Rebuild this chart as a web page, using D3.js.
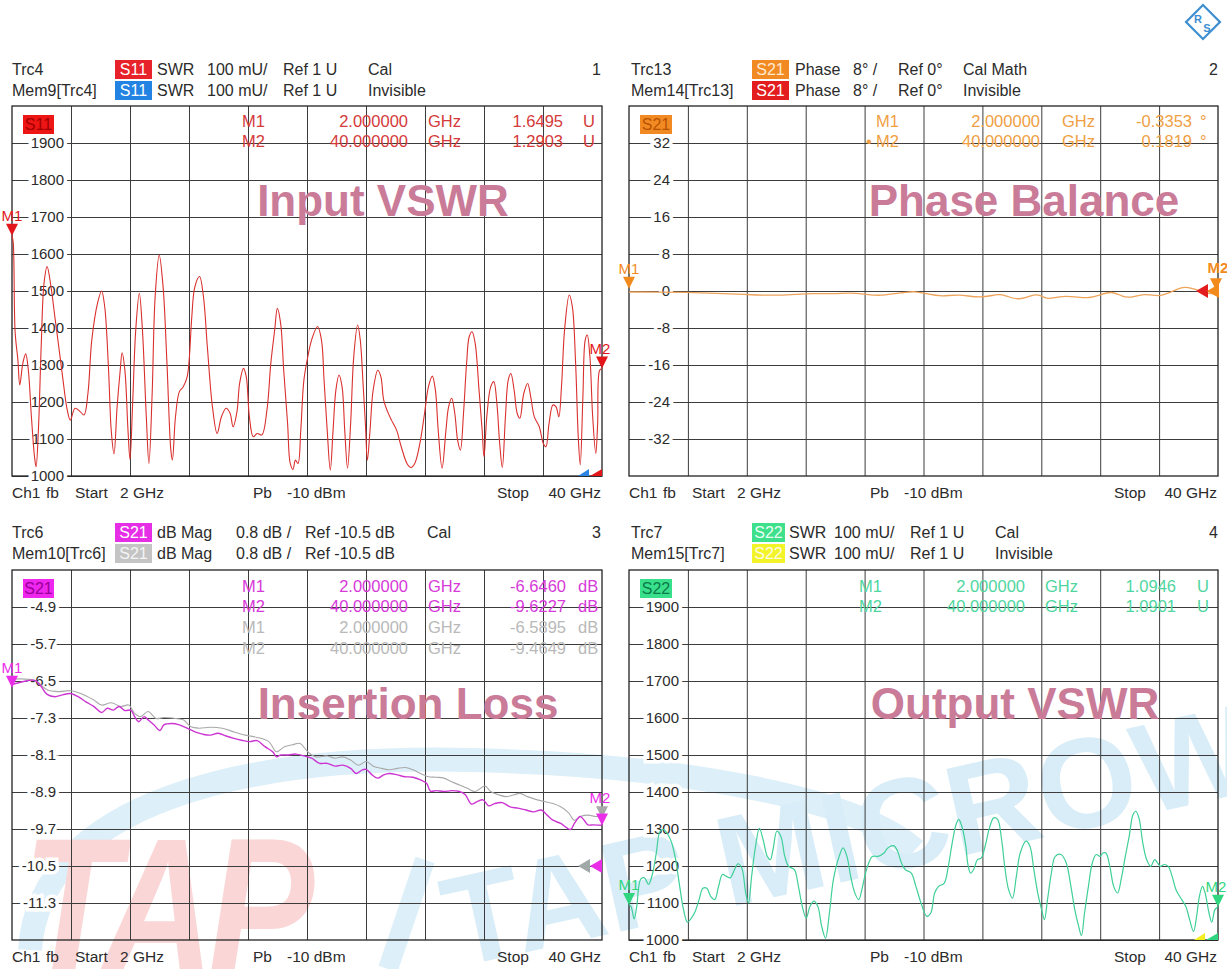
<!DOCTYPE html>
<html>
<head>
<meta charset="utf-8">
<script src="https://cdn.jsdelivr.net/npm/d3@7"></script>
<style>
  body { margin: 0; background: #fff; }
  svg text { font-family: "Liberation Sans", Arial, sans-serif; white-space: pre; }
</style>
</head>
<body>
<svg id="chart" width="1227" height="969"></svg>
<script>
// ---- data ----
const swrTicks = [1900, 1800, 1700, 1600, 1500, 1400, 1300, 1200, 1100, 1000];
const phaseTicks = [32, 24, 16, 8, 0, -8, -16, -24, -32];
const dbTicks = [-4.9, -5.7, -6.5, -7.3, -8.1, -8.9, -9.7, -10.5, -11.3];

// Trc4 S11 SWR (mU)
const s11Freq = [2.00,2.08,2.20,2.38,2.50,2.70,2.88,3.05,3.25,3.45,3.55,3.70,3.88,4.06,4.26,4.51,4.76,5.01,5.26,5.56,
  5.76,6.06,6.39,6.64,6.89,7.14,7.51,7.77,7.97,8.22,8.39,8.57,8.77,8.97,9.09,9.27,9.47,9.60,9.77,9.97,
  10.20,10.40,10.65,10.82,11.02,11.22,11.48,11.73,11.98,12.23,12.33,12.53,12.78,13.03,13.28,13.41,13.58,13.78,14.08,14.33,
  14.58,14.91,15.21,15.49,15.79,16.04,16.24,16.49,16.66,16.91,17.09,17.29,17.54,17.79,18.09,18.42,18.67,18.92,19.09,19.30,
  19.50,19.75,19.92,20.10,20.25,20.42,20.60,20.80,21.05,21.30,21.68,21.93,22.10,22.30,22.50,22.68,22.86,23.06,23.26,23.43,
  23.61,23.81,24.01,24.26,24.43,24.61,24.76,24.89,25.06,25.26,25.56,25.76,25.94,26.19,26.44,26.77,27.07,27.44,27.69,27.94,
  28.27,28.57,28.82,29.07,29.27,29.45,29.70,29.95,30.12,30.32,30.52,30.70,30.88,31.08,31.28,31.45,31.63,31.83,32.08,32.28,
  32.40,32.58,32.83,33.03,33.23,33.41,33.58,33.78,33.96,34.13,34.34,34.54,34.71,34.96,35.21,35.41,35.64,35.96,36.22,36.39,
  36.59,36.84,37.04,37.22,37.39,37.59,37.89,38.09,38.30,38.47,38.60,38.77,38.92,39.05,39.22,39.40,39.60,39.72,39.85,40.00];
const s11Swr = [1650,1630,1390,1313,1246,1305,1330,1287,1160,1052,1025,1124,1350,1520,1566,1512,1430,1350,1268,1178,
  1151,1183,1174,1165,1223,1368,1467,1500,1458,1286,1124,1060,1187,1286,1333,1286,1124,1045,1196,1395,
  1494,1395,1160,1034,1214,1485,1597,1512,1305,1070,1043,1160,1228,1241,1268,1313,1430,1512,1539,1485,
  1350,1187,1115,1160,1183,1170,1133,1174,1250,1291,1268,1160,1106,1115,1111,1178,1305,1395,1453,1413,
  1286,1142,1034,1018,1043,1034,1124,1259,1322,1368,1404,1368,1259,1124,1016,1124,1232,1273,1241,1124,
  1021,1142,1322,1408,1368,1250,1142,1043,1124,1232,1286,1268,1205,1174,1151,1124,1079,1034,1023,1034,
  1088,1169,1241,1270,1232,1124,1021,1124,1187,1210,1169,1097,1070,1169,1305,1377,1390,1359,1232,1124,
  1052,1160,1241,1255,1196,1088,1023,1160,1259,1277,1232,1169,1156,1223,1250,1214,1160,1133,1088,1079,
  1142,1192,1187,1160,1241,1395,1489,1458,1305,1106,1030,1214,1368,1381,1323,1160,1061,1142,1286,1290];

// Trc13 S21 phase (deg)
const phaseFreq = [2.00,3.63,5.64,7.65,9.41,11.17,12.93,13.68,15.19,16.19,17.20,18.20,19.20,19.71,20.46,21.21,22.22,23.22,24.73,25.73,
  26.24,27.12,27.99,28.50,29.00,29.75,30.76,31.76,32.39,33.14,33.77,34.27,35.28,36.16,36.79,37.79,38.29,38.80,39.30,40.00];
const phaseDeg = [-0.22,-0.22,-0.29,-0.50,-0.72,-1.01,-0.72,-0.50,-0.65,-0.36,-0.65,-1.08,-0.50,-0.36,0.00,-0.65,-1.23,-0.65,-1.59,-0.65,
  -0.86,-2.09,-0.86,-0.72,-1.95,-1.08,-1.23,-1.59,-0.86,0.00,-1.08,-1.59,-0.50,-1.23,-0.50,1.08,0.58,0.07,-0.50,-0.65];

// Trc6 S21 dB mag and its memory trace
const s21Freq = [2.00,2.75,3.50,3.88,4.26,4.76,5.26,5.76,6.26,6.76,7.26,7.77,8.14,8.52,8.89,9.27,9.65,9.90,10.15,10.52,
  10.77,11.15,11.53,11.78,12.28,12.78,13.28,13.78,14.28,14.78,15.28,15.79,16.29,16.79,17.29,17.79,18.29,18.79,19.04,19.30,
  19.80,20.30,20.80,21.30,21.80,22.30,22.80,23.31,23.81,24.18,24.56,24.81,25.19,25.56,25.94,26.31,26.82,27.32,27.82,28.32,
  28.70,28.95,29.32,29.82,30.32,30.83,31.20,31.58,31.95,32.33,32.71,33.08,33.58,34.08,34.59,35.09,35.59,36.09,36.47,36.84,
  37.34,37.97,38.22,38.60,38.85,39.10,39.47,40.00];
const s21Db = [-6.58,-6.51,-6.49,-6.62,-6.79,-6.84,-6.80,-6.77,-6.84,-6.95,-7.05,-7.18,-7.09,-7.13,-7.05,-7.14,-7.13,-7.27,-7.38,-7.27,
  -7.34,-7.45,-7.57,-7.45,-7.42,-7.45,-7.52,-7.60,-7.65,-7.67,-7.63,-7.69,-7.74,-7.78,-7.81,-7.79,-7.92,-8.03,-8.14,-8.10,
  -8.10,-8.08,-8.12,-8.17,-8.28,-8.28,-8.34,-8.32,-8.39,-8.50,-8.42,-8.41,-8.53,-8.60,-8.53,-8.50,-8.53,-8.57,-8.58,-8.64,
  -8.71,-8.88,-8.87,-8.89,-8.87,-8.89,-8.96,-9.16,-9.11,-9.07,-9.20,-9.15,-9.13,-9.22,-9.25,-9.29,-9.33,-9.29,-9.40,-9.51,
  -9.58,-9.71,-9.58,-9.43,-9.51,-9.61,-9.61,-9.62];
const memFreq = [2.00,3.50,4.26,5.01,5.76,6.51,7.26,7.77,8.39,9.02,9.52,9.90,10.27,10.77,11.27,11.78,12.53,13.03,13.53,14.03,
  14.78,15.54,16.29,17.04,17.79,18.54,19.04,19.55,20.05,20.55,21.05,21.55,22.30,22.80,23.31,23.81,24.31,24.81,25.31,25.81,
  26.31,26.82,27.32,27.82,28.32,28.82,29.32,29.82,30.32,30.83,31.33,31.83,32.46,32.83,33.33,33.83,34.34,34.71,35.21,35.84,
  36.34,36.84,37.34,37.85,38.22,38.60,39.10,39.60,40.00];
const memDb = [-6.46,-6.49,-6.69,-6.73,-6.71,-6.78,-6.91,-7.02,-6.97,-7.05,-7.02,-7.20,-7.27,-7.16,-7.31,-7.29,-7.31,-7.34,-7.49,-7.52,
  -7.50,-7.52,-7.60,-7.67,-7.72,-7.81,-8.03,-7.92,-7.88,-7.85,-8.03,-8.14,-8.12,-8.17,-8.14,-8.21,-8.32,-8.24,-8.35,-8.39,
  -8.42,-8.39,-8.37,-8.42,-8.50,-8.57,-8.58,-8.60,-8.68,-8.75,-8.82,-8.89,-8.77,-8.89,-8.96,-9.00,-8.96,-8.93,-9.00,-9.07,
  -9.11,-9.15,-9.22,-9.35,-9.51,-9.43,-9.40,-9.43,-9.43];

// Trc7 S22 SWR (mU)
const s22Freq = [2.00,2.13,2.33,2.50,2.75,3.00,3.26,3.51,3.76,4.01,4.26,4.51,4.76,5.01,5.27,5.52,5.77,6.02,6.27,6.52,
  6.77,7.02,7.27,7.53,7.78,8.03,8.28,8.53,8.78,9.03,9.28,9.53,9.71,9.91,10.16,10.41,10.66,10.92,11.12,11.29,
  11.54,11.80,12.05,12.30,12.67,12.93,13.18,13.43,13.68,13.93,14.18,14.43,14.68,14.93,15.19,15.56,15.81,16.06,16.32,16.57,
  16.82,17.07,17.32,17.70,18.07,18.45,18.70,19.08,19.33,19.58,19.83,20.21,20.51,20.84,21.21,21.47,21.72,21.97,22.34,22.60,
  22.85,23.10,23.27,23.47,23.73,23.85,24.03,24.23,24.48,24.73,24.98,25.23,25.53,25.78,26.04,26.24,26.49,26.74,26.99,27.24,
  27.62,27.87,28.12,28.37,28.62,28.80,29.00,29.25,29.50,29.88,30.21,30.51,30.76,31.01,31.19,31.39,31.64,31.89,32.14,32.39,
  32.57,32.77,33.02,33.27,33.52,33.77,34.02,34.27,34.52,34.70,34.90,35.15,35.40,35.66,35.91,36.11,36.28,36.53,36.79,37.04,
  37.29,37.66,37.92,38.17,38.42,38.62,38.80,39.00,39.17,39.42,39.60,39.80,40.00];
const s22Swr = [1095,1091,1057,1091,1164,1168,1150,1178,1235,1294,1298,1285,1262,1217,1145,1082,1048,1059,1077,1109,
  1140,1140,1118,1109,1145,1177,1172,1168,1188,1206,1194,1127,1100,1172,1252,1302,1270,1226,1217,1244,
  1294,1280,1226,1199,1190,1145,1091,1059,1091,1105,1091,1037,1005,1073,1164,1226,1249,1226,1168,1127,
  1109,1145,1190,1226,1226,1235,1249,1255,1240,1208,1190,1181,1145,1100,1064,1073,1127,1145,1154,1199,
  1262,1312,1326,1308,1254,1208,1181,1190,1217,1222,1254,1299,1330,1326,1271,1199,1136,1113,1172,1235,
  1267,1253,1190,1127,1082,1055,1109,1181,1226,1231,1208,1145,1082,1037,1012,1073,1145,1208,1231,1226,
  1235,1235,1199,1145,1127,1168,1226,1280,1339,1348,1330,1262,1217,1199,1217,1208,1199,1204,1199,1172,
  1136,1109,1091,1055,1023,1064,1118,1145,1127,1073,1048,1082,1090];

const svg = d3.select("#chart");
const gridColor = "#3c3c3c";
const textColor = "#2b2b2b";
const HEAD = 16;    // header font size
const MARK = 16.5;  // marker table font size
const FOOT = 15.5;  // footer font size

// ---- watermark (drawn first, very faint) ----
const wm = svg.append("g").attr("class", "watermark");
wm.append("path")
  .attr("d", "M30,950 C40,800 250,755 470,760 C690,765 860,800 915,850")
  .attr("fill", "none").attr("stroke", "#ddeff8").attr("stroke-width", 24);
wm.append("text")
  .attr("transform", "translate(22,978) scale(0.8,1)")
  .attr("font-size", 200).attr("font-weight", "bold").attr("font-style", "italic")
  .attr("letter-spacing", -10)
  .attr("fill", "#fbd6d6").text("TAP");
wm.append("path")
  .attr("d", "M425,860 L388,969")
  .attr("stroke", "#ddeff8").attr("stroke-width", 20);
wm.append("text")
  .attr("transform", "translate(455,968) rotate(-12.5)")
  .attr("font-size", 128).attr("font-weight", "bold")
  .attr("fill", "#d8edf7").text("TAP MICROWA");

// R&S style logo
const logo = svg.append("g").attr("transform", "translate(1203,22)");
logo.append("rect").attr("x", -12).attr("y", -12).attr("width", 24).attr("height", 24)
  .attr("transform", "rotate(45)").attr("fill", "#fff").attr("stroke", "#3d8fd1").attr("stroke-width", 2.2);
logo.append("text").attr("x", -5).attr("y", 1).attr("font-size", 11).attr("font-weight", "bold")
  .attr("fill", "#3d8fd1").attr("text-anchor", "middle").text("R");
logo.append("text").attr("x", 4).attr("y", 10).attr("font-size", 11).attr("font-weight", "bold")
  .attr("fill", "#3d8fd1").attr("text-anchor", "middle").text("S");

// ---- helpers ----
function txt(g, x, y, s, opt) {
  opt = opt || {};
  return g.append("text")
    .attr("x", x).attr("y", y)
    .attr("font-size", opt.size || HEAD)
    .attr("fill", opt.color || textColor)
    .attr("text-anchor", opt.anchor || "start")
    .attr("font-weight", opt.weight || "normal")
    .text(s);
}

// several words of one line, each at its own x
function words(g, y, list, size) {
  list.forEach(w => txt(g, w[0], y, w[1], { size: size || HEAD }));
}

function tag(g, x, y, s, bg, fg, w, size) {
  w = w || 37;
  g.append("rect").attr("x", x).attr("y", y - 15).attr("width", w).attr("height", 19).attr("fill", bg);
  txt(g, x + w / 2, y, s, { color: fg, anchor: "middle", size: size || HEAD });
}

function downTri(g, x, y, color) {
  g.append("path").attr("d", `M${x - 6},${y - 12}L${x + 6},${y - 12}L${x},${y}Z`).attr("fill", color);
}

function leftTri(g, x, y, color) {
  g.append("path").attr("d", `M${x},${y}L${x + 12},${y - 7}L${x + 12},${y + 7}Z`).attr("fill", color);
}

function drawPanel(p) {
  const g = svg.append("g");
  const x = d3.scaleLinear().domain([2, 40]).range([p.x0, p.x0 + p.w]);
  const y = d3.scaleLinear().domain(p.yDomain).range([p.y0 + p.h, p.y0]);

  // vertical grid (10 divisions over the span)
  const xGrid = d3.range(1, 10).map(i => 2 + i * 3.8);
  g.append("g")
    .attr("transform", `translate(0,${p.y0 + p.h})`)
    .call(d3.axisBottom(x).tickValues(xGrid).tickSize(-p.h).tickFormat(""))
    .call(a => a.select(".domain").remove())
    .call(a => a.selectAll("line").attr("stroke", gridColor).attr("stroke-width", 1));

  // horizontal grid
  g.append("g")
    .attr("transform", `translate(${p.x0},0)`)
    .call(d3.axisLeft(y).tickValues(p.yTicks).tickSize(-p.w).tickFormat(""))
    .call(a => a.select(".domain").remove())
    .call(a => a.selectAll("line").attr("stroke", gridColor).attr("stroke-width", 1));

  // frame
  g.append("rect")
    .attr("x", p.x0).attr("y", p.y0).attr("width", p.w).attr("height", p.h)
    .attr("fill", "none").attr("stroke", "#222").attr("stroke-width", 1.3);

  // tick labels sit on the grid lines with a white knock-out
  g.selectAll("text.ylab")
    .data(p.yTicks)
    .enter().append("text")
    .attr("class", "ylab")
    .attr("x", p.x0 + p.labelEnd)
    .attr("y", d => y(d) + 5)
    .attr("text-anchor", "end")
    .attr("font-size", 15)
    .attr("fill", textColor)
    .attr("stroke", "#fff").attr("stroke-width", 7).attr("paint-order", "stroke")
    .text(d => String(d));

  // footer
  const fy = p.y0 + p.h + 22;
  words(g, fy, [[p.x0, "Ch1"], [p.x0 + 34, "fb"], [p.x0 + 63, "Start"], [p.x0 + 108, "2 GHz"],
    [p.x0 + 241, "Pb"], [p.x0 + 275, "-10 dBm"], [p.x0 + 485, "Stop"]], FOOT);
  txt(g, p.x0 + p.w - 1, fy, "40 GHz", { anchor: "end", size: FOOT });

  return { g, x, y };
}

function trace(pan, freq, vals, color, width, curve) {
  pan.g.append("path")
    .datum(d3.zip(freq, vals))
    .attr("fill", "none")
    .attr("stroke", color)
    .attr("stroke-width", width)
    .attr("stroke-linejoin", "round")
    .attr("d", d3.line().x(d => pan.x(d[0])).y(d => pan.y(d[1])).curve(curve || d3.curveLinear));
}

function markerTable(g, rows, cols) {
  rows.forEach(r => {
    const o = { color: r.color, size: MARK };
    txt(g, cols.name, r.y, r.name, o);
    txt(g, cols.freqEnd, r.y, r.freq, Object.assign({ anchor: "end" }, o));
    txt(g, cols.ghz, r.y, "GHz", o);
    txt(g, cols.valEnd, r.y, r.val, Object.assign({ anchor: "end" }, o));
    txt(g, cols.unit, r.y, r.unit, o);
  });
}

const curve = d3.curveCatmullRom.alpha(0.5);
const titleColor = "#c97b98";

// ---- panel 1: Input VSWR ----
const p1 = drawPanel({ x0: 12, y0: 106, w: 590, h: 370, yDomain: [1000, 2000], yTicks: swrTicks, labelEnd: 52 });
txt(p1.g, 12, 75, "Trc4");
tag(p1.g, 115, 75, "S11", "#e8222a", "#fff");
words(p1.g, 75, [[157, "SWR"], [207, "100 mU/"], [283, "Ref 1 U"], [368, "Cal"]]);
txt(p1.g, 601, 75, "1", { anchor: "end" });
txt(p1.g, 12, 96, "Mem9[Trc4]");
tag(p1.g, 115, 96, "S11", "#2283e2", "#fff");
words(p1.g, 96, [[157, "SWR"], [207, "100 mU/"], [283, "Ref 1 U"], [368, "Invisible"]]);
txt(p1.g, 383, 216, "Input VSWR", { size: 44, weight: "bold", color: titleColor, anchor: "middle" });
tag(p1.g, 23, 130, "S11", "#ee1515", "#a40000", 31, 16);
markerTable(p1.g, [
  { y: 127, name: "M1", freq: "2.000000", val: "1.6495", unit: "U", color: "#d43a3a" },
  { y: 147, name: "M2", freq: "40.000000", val: "1.2903", unit: "U", color: "#d43a3a" }
], { name: 242, freqEnd: 408, ghz: 428, valEnd: 563, unit: 583 });
trace(p1, s11Freq, s11Swr, "#d9302e", 1.1, curve);
downTri(p1.g, p1.x(2), p1.y(1649.5), "#e3161c");
txt(p1.g, p1.x(2), p1.y(1649.5) - 15, "M1", { color: "#e3161c", anchor: "middle", size: 15 });
downTri(p1.g, p1.x(40), p1.y(1290.3), "#e3161c");
txt(p1.g, p1.x(40) - 2, p1.y(1290.3) - 15, "M2", { color: "#e3161c", anchor: "middle", size: 15 });
p1.g.append("path").attr("d", `M${p1.x(40) - 24},${p1.y(1000)}L${p1.x(40) - 13},${p1.y(1000) - 7}L${p1.x(40) - 13},${p1.y(1000)}Z`).attr("fill", "#2a86e0");
p1.g.append("path").attr("d", `M${p1.x(40) - 12},${p1.y(1000)}L${p1.x(40)},${p1.y(1000) - 7}L${p1.x(40)},${p1.y(1000)}Z`).attr("fill", "#e3161c");

// ---- panel 2: Phase Balance ----
const p2 = drawPanel({ x0: 629, y0: 106, w: 589, h: 370, yDomain: [-40, 40], yTicks: phaseTicks, labelEnd: 41 });
txt(p2.g, 631, 75, "Trc13");
tag(p2.g, 752, 75, "S21", "#f28a24", "#ffe9cf");
words(p2.g, 75, [[795, "Phase"], [853, "8° /"], [898, "Ref 0°"], [963, "Cal Math"]]);
txt(p2.g, 1218, 75, "2", { anchor: "end" });
txt(p2.g, 631, 96, "Mem14[Trc13]");
tag(p2.g, 752, 96, "S21", "#e31d1d", "#fff");
words(p2.g, 96, [[795, "Phase"], [853, "8° /"], [898, "Ref 0°"], [963, "Invisible"]]);
txt(p2.g, 1024, 216, "Phase Balance", { size: 44, weight: "bold", color: titleColor, anchor: "middle" });
tag(p2.g, 640, 130, "S21", "#f28a24", "#b85300", 32, 16);
markerTable(p2.g, [
  { y: 127, name: "M1", freq: "2.000000", val: "-0.3353", unit: "°", color: "#f0a043" },
  { y: 147, name: "M2", freq: "40.000000", val: "0.1819", unit: "°", color: "#f0a043" }
], { name: 876, freqEnd: 1040, ghz: 1062, valEnd: 1192, unit: 1200 });
txt(p2.g, 866, 147, "•", { color: "#f0a043", size: MARK });
trace(p2, phaseFreq, phaseDeg, "#eda35a", 1.3, d3.curveBasis);
downTri(p2.g, p2.x(2), p2.y(0.5), "#f38a1e");
txt(p2.g, p2.x(2), p2.y(0.5) - 15, "M1", { color: "#f38a1e", anchor: "middle", size: 15 });
leftTri(p2.g, p2.x(40) - 22, p2.y(0), "#e31d1d");
leftTri(p2.g, p2.x(40) - 11, p2.y(0), "#f38a1e");
downTri(p2.g, p2.x(40) - 2, p2.y(0.18), "#f38a1e");
txt(p2.g, p2.x(40), p2.y(0.18) - 17, "M2", { color: "#f38a1e", anchor: "middle", weight: "bold", size: 15 });

// ---- panel 3: Insertion Loss ----
const p3 = drawPanel({ x0: 12, y0: 570, w: 590, h: 370, yDomain: [-12.1, -4.1], yTicks: dbTicks, labelEnd: 44 });
txt(p3.g, 12, 538, "Trc6");
tag(p3.g, 115, 538, "S21", "#e52ee6", "#fff");
words(p3.g, 538, [[157, "dB Mag"], [236, "0.8 dB /"], [305, "Ref -10.5 dB"], [427, "Cal"]]);
txt(p3.g, 601, 538, "3", { anchor: "end" });
txt(p3.g, 12, 559, "Mem10[Trc6]");
tag(p3.g, 115, 559, "S21", "#c4c4c4", "#f4f4f4");
words(p3.g, 559, [[157, "dB Mag"], [236, "0.8 dB /"], [305, "Ref -10.5 dB"]]);
txt(p3.g, 408, 719, "Insertion Loss", { size: 44, weight: "bold", color: titleColor, anchor: "middle" });
tag(p3.g, 23, 594, "S21", "#ee26ee", "#9a009a", 31, 16);
markerTable(p3.g, [
  { y: 592, name: "M1", freq: "2.000000", val: "-6.6460", unit: "dB", color: "#d63ad8" },
  { y: 612, name: "M2", freq: "40.000000", val: "-9.6227", unit: "dB", color: "#d63ad8" },
  { y: 633, name: "M1", freq: "2.000000", val: "-6.5895", unit: "dB", color: "#b9b9b9" },
  { y: 654, name: "M2", freq: "40.000000", val: "-9.4649", unit: "dB", color: "#b9b9b9" }
], { name: 242, freqEnd: 408, ghz: 428, valEnd: 566, unit: 578 });
trace(p3, memFreq, memDb, "#a9a9a9", 1.1, curve);
trace(p3, s21Freq, s21Db, "#cc35d2", 1.4, curve);
downTri(p3.g, p3.x(2), p3.y(-6.646), "#ea2ee8");
txt(p3.g, p3.x(2), p3.y(-6.646) - 15, "M1", { color: "#ea2ee8", anchor: "middle", size: 15 });
downTri(p3.g, p3.x(40), p3.y(-9.4649), "#a9a9a9");
downTri(p3.g, p3.x(40), p3.y(-9.6227), "#ea2ee8");
txt(p3.g, p3.x(40) - 2, p3.y(-9.4649) - 15, "M2", { color: "#ea2ee8", anchor: "middle", size: 15 });
leftTri(p3.g, p3.x(40) - 24, p3.y(-10.5), "#a0a8a8");
leftTri(p3.g, p3.x(40) - 12, p3.y(-10.5), "#ea2ee8");

// ---- panel 4: Output VSWR ----
const p4 = drawPanel({ x0: 629, y0: 570, w: 589, h: 370, yDomain: [1000, 2000], yTicks: swrTicks, labelEnd: 50 });
txt(p4.g, 631, 538, "Trc7");
tag(p4.g, 752, 538, "S22", "#3ee08c", "#e8fff3", 33);
words(p4.g, 538, [[789, "SWR"], [834, "100 mU/"], [910, "Ref 1 U"], [995, "Cal"]]);
txt(p4.g, 1218, 538, "4", { anchor: "end" });
txt(p4.g, 631, 559, "Mem15[Trc7]");
tag(p4.g, 752, 559, "S22", "#f3f32a", "#fffbe0", 33);
words(p4.g, 559, [[789, "SWR"], [834, "100 mU/"], [910, "Ref 1 U"], [995, "Invisible"]]);
txt(p4.g, 1015, 719, "Output VSWR", { size: 44, weight: "bold", color: titleColor, anchor: "middle" });
tag(p4.g, 640, 594, "S22", "#38e08c", "#0c7a48", 32, 16);
markerTable(p4.g, [
  { y: 592, name: "M1", freq: "2.000000", val: "1.0946", unit: "U", color: "#4fd69f" },
  { y: 612, name: "M2", freq: "40.000000", val: "1.0901", unit: "U", color: "#4fd69f" }
], { name: 859, freqEnd: 1025, ghz: 1045, valEnd: 1176, unit: 1197 });
trace(p4, s22Freq, s22Swr, "#3fcf98", 1.2, curve);
downTri(p4.g, p4.x(2), p4.y(1094.6), "#2fd67f");
txt(p4.g, p4.x(2), p4.y(1094.6) - 15, "M1", { color: "#2fd67f", anchor: "middle", size: 15 });
downTri(p4.g, p4.x(40), p4.y(1090.1), "#2fd67f");
txt(p4.g, p4.x(40) - 2, p4.y(1090.1) - 15, "M2", { color: "#2fd67f", anchor: "middle", size: 15 });
p4.g.append("path").attr("d", `M${p4.x(40) - 24},${p4.y(1000)}L${p4.x(40) - 13},${p4.y(1000) - 7}L${p4.x(40) - 13},${p4.y(1000)}Z`).attr("fill", "#f2ee20");
p4.g.append("path").attr("d", `M${p4.x(40) - 12},${p4.y(1000)}L${p4.x(40)},${p4.y(1000) - 7}L${p4.x(40)},${p4.y(1000)}Z`).attr("fill", "#2fd67f");
</script>
</body>
</html>
